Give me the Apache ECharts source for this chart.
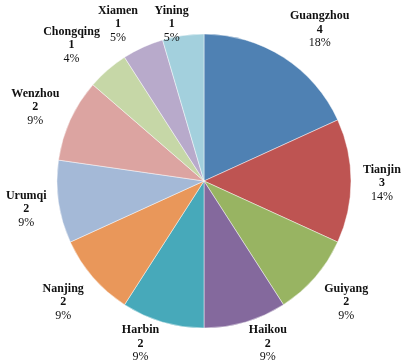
<!DOCTYPE html>
<html>
<head>
<meta charset="utf-8">
<script src="https://cdn.jsdelivr.net/npm/echarts@6/dist/echarts.min.js"></script>
<style>
html,body{margin:0;padding:0;background:#fff;}
#chart{width:410px;height:363px;}
</style>
</head>
<body>
<div id="chart"></div>
<script>
const categories = ['Guangzhou','Tianjin','Guiyang','Haikou','Harbin','Nanjing','Urumqi','Wenzhou','Chongqing','Xiamen','Yining'];
const values = [4,3,2,2,2,2,2,2,1,1,1];
const percentLabels = ['18%','14%','9%','9%','9%','9%','9%','9%','4%','5%','5%'];
const colors = ['#4F81B3','#BE5452','#98B462','#84699D','#47A9BA','#E9975A','#A4B9D7','#DCA4A1','#C6D7A7','#B8AACB','#A3D0DD'];

const W = 410, H = 363;
const CX = 204, CY = 181, R = 147;
const total = values.reduce((a,b)=>a+b,0);
function midAngle(i){
  let s = 0;
  for (let k=0;k<i;k++) s += values[k];
  return (s + values[i]/2) / total * Math.PI * 2;
}
function clamp(v, lo, hi){ return Math.max(lo, Math.min(hi, v)); }

const chart = echarts.init(document.getElementById('chart'), null, {renderer:'canvas'});
chart.setOption({
  backgroundColor: '#fff',
  animation: false,
  series: [{
    type: 'pie',
    center: [CX, CY],
    radius: [0, R],
    startAngle: 90,
    clockwise: true,
    avoidLabelOverlap: false,
    data: categories.map((c,i)=>({name:c, value:values[i], itemStyle:{color:colors[i]}})),
    itemStyle: { borderColor: 'rgba(255,255,255,0.45)', borderWidth: 1 },
    label: {
      show: true,
      position: 'outside',
      fontFamily: 'Liberation Serif',
      fontSize: 12,
      color: '#111',
      lineHeight: 13.5,
      formatter: p => '{n|' + p.name + '}\n{v|' + p.value + '}\n{p|' + percentLabels[p.dataIndex] + '}',
      rich: {
        n: {fontFamily:'Liberation Serif', fontSize:12, fontWeight:'bold', color:'#111', lineHeight:13.5, align:'center'},
        v: {fontFamily:'Liberation Serif', fontSize:12, fontWeight:'bold', color:'#111', lineHeight:13.5, align:'center'},
        p: {fontFamily:'Liberation Serif', fontSize:12, color:'#111', lineHeight:13.5, align:'center'}
      }
    },
    labelLine: { show: false },
    labelLayout: function(params){
      const a = midAngle(params.dataIndex);
      const w = params.labelRect.width, h = params.labelRect.height;
      const dx = Math.sin(a), dy = -Math.cos(a);
      const g = 12;
      const px = CX + dx*(R+g), py = CY + dy*(R+g);
      const sx = clamp(dx*4, -1, 1), sy = clamp(dy*1.15, -1, 1);
      let x = px + sx*w/2, y = py + sy*h/2;
      y = clamp(y, h/2 + 2, H - h/2 - 1) + 2;
      x = clamp(x, w/2 + 1, W - w/2 - 1);
      return {x: x, y: y, align: 'center', verticalAlign: 'middle'};
    }
  }]
});
</script>
</body>
</html>
